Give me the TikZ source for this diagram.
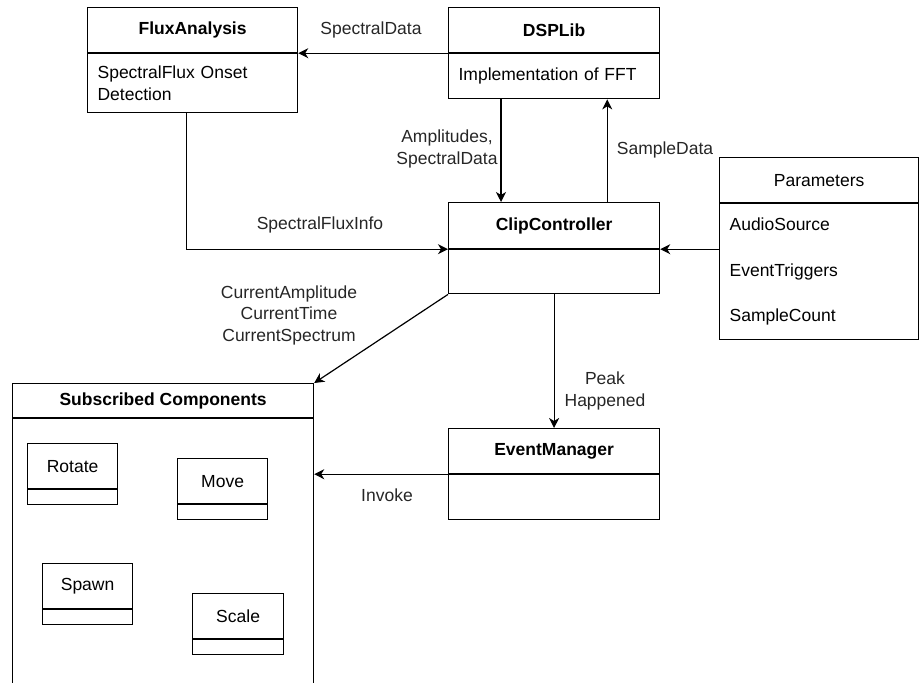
\documentclass[tikz,border=0pt]{standalone}
\usepackage{fontspec}
\setmainfont{Liberation Sans}
\usepackage{tikz}
\usetikzlibrary{arrows.meta,positioning}
\newcommand{\diagfont}{\fontsize{17.5}{21.5}\selectfont}
\tikzset
{
    classhead/.style = {draw=black, line width=1.2pt, anchor=north west, inner sep=0pt, align=center, font=\diagfont\bfseries},
    plainhead/.style = {draw=black, line width=1.2pt, anchor=north west, inner sep=0pt, align=center, font=\diagfont},
    classbody/.style = {draw=black, line width=1.2pt, inner xsep=10pt, inner ysep=0pt, align=left, font=\diagfont},
    flowlabel/.style = {align=center, text=black!85, font=\diagfont}
}

\begin{document}
\begin{tikzpicture}[->,>={Stealth[length=10pt,width=10pt,inset=3pt]}, x=1pt, y=-1pt, line width=1.2pt]
    \useasboundingbox (0,0) rectangle (920,682);

    % classes
    \node [classhead, minimum width=210, minimum height=45] (fluxhead) at (87,7) {FluxAnalysis};
    \node [classbody, minimum width=210, minimum height=59, text width=190, below=0pt of fluxhead] (fluxbody) {SpectralFlux Onset\\Detection};

    \node [classhead, minimum width=211, minimum height=45] (dsphead) at (448,7) {DSPLib};
    \node [classbody, minimum width=211, minimum height=45, text width=191, below=0pt of dsphead] (dspbody) {Implementation of FFT};

    \node [classhead, minimum width=211, minimum height=46] (cliphead) at (448,202) {ClipController};
    \node [classbody, minimum width=211, minimum height=44, below=0pt of cliphead] (clipbody) {};

    \node [plainhead, minimum width=199, minimum height=45] (paramshead) at (719,157) {Parameters};
    \node [classbody, minimum width=199, minimum height=136, text width=179, below=0pt of paramshead] (paramsbody) {AudioSource\\[24pt]EventTriggers\\[24pt]SampleCount};

    \node [classhead, minimum width=211, minimum height=45] (eventhead) at (448,428) {EventManager};
    \node [classbody, minimum width=211, minimum height=45, below=0pt of eventhead] (eventbody) {};

    % subscribed components
    \node [classhead, minimum width=301, minimum height=34] (subshead) at (12,383) {Subscribed Components};
    \node [classbody, minimum width=301, minimum height=290, below=0pt of subshead] (subsbody) {};

    \node [plainhead, minimum width=90, minimum height=45] (rotatehead) at (27,443) {Rotate};
    \node [classbody, minimum width=90, minimum height=15, below=0pt of rotatehead] (rotatebody) {};
    \node [plainhead, minimum width=90, minimum height=45] (movehead) at (177,458) {Move};
    \node [classbody, minimum width=90, minimum height=15, below=0pt of movehead] (movebody) {};
    \node [plainhead, minimum width=90, minimum height=45] (spawnhead) at (42,563) {Spawn};
    \node [classbody, minimum width=90, minimum height=15, below=0pt of spawnhead] (spawnbody) {};
    \node [plainhead, minimum width=91, minimum height=45] (scalehead) at (192,593) {Scale};
    \node [classbody, minimum width=91, minimum height=15, below=0pt of scalehead] (scalebody) {};

    % connectors
    \draw (dsphead.south west) -- (fluxhead.south east);
    \node [flowlabel] (spectrallbl) at (371,30) {SpectralData};

    \draw ([xshift=53pt]dspbody.south west) -- ([xshift=53pt]cliphead.north west);
    \node [flowlabel] (amplbl) at (447,149) {Amplitudes,\\SpectralData};

    \draw ([xshift=-53pt]cliphead.north east) -- ([xshift=-53pt]dspbody.south east);
    \node [flowlabel] (samplelbl) at (665,150) {SampleData};

    \draw ([xshift=-6pt]fluxbody.south) |- (cliphead.south west);
    \node [flowlabel] (fluxlbl) at (320,225) {SpectralFluxInfo};

    \draw (paramsbody.west |- cliphead.south east) -- (cliphead.south east);

    \draw (clipbody.south west) -- (subshead.north east);
    \node [flowlabel] (currentlbl) at (289,315) {CurrentAmplitude\\CurrentTime\\CurrentSpectrum};

    \draw (clipbody.south) -- (eventhead.north);
    \node [flowlabel] (peaklbl) at (605,391) {Peak\\Happened};

    \draw (eventhead.south west) -- (subsbody.east |- eventhead.south west);
    \node [flowlabel] (invokelbl) at (387,495) {Invoke};
\end{tikzpicture}
\end{document}
